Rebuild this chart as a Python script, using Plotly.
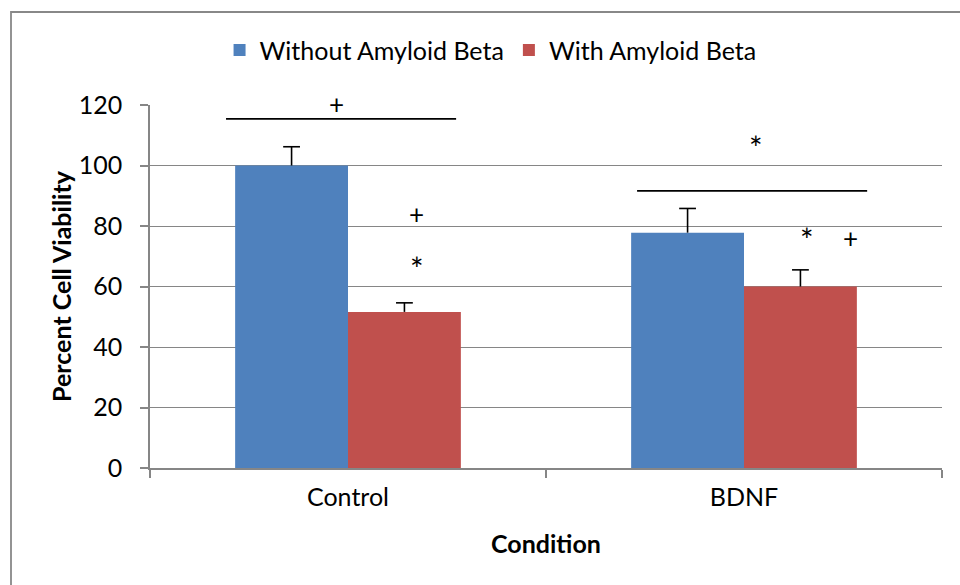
import plotly.graph_objects as go

categories = ["Control", "BDNF"]
without_ab = [100, 77.8]
without_err = [6.2, 8.0]
with_ab = [51.6, 60.0]
with_err = [3.0, 5.5]

# significance markers (x in category units, y in data units)
sig_lines = [(-0.308, 0.273, 115.4), (0.730, 1.311, 91.6)]
sig_plus = [(-0.028, 120.3), (0.174, 84.0), (1.268, 76.0)]
sig_star = [(0.174, 66.1), (1.030, 105.8), (1.159, 75.4)]

FONT = "Lato, Carlito, Open Sans, sans-serif"
GRID = "#868686"
FS = 25
GAP = 0.43

fig = go.Figure()
series = [("Without Amyloid Beta", without_ab, without_err, "#4F81BD", "a"),
          ("With Amyloid Beta", with_ab, with_err, "#C0504D", "b")]
for name, vals, errs, col, grp in series:
    fig.add_trace(go.Bar(
        x=categories, y=vals, name=name, offsetgroup=grp,
        marker=dict(color=col, line=dict(width=0)),
        error_y=dict(type="data", array=errs, arrayminus=[0, 0], color="black", thickness=1.6, width=0),
    ))
for name, vals, errs, col, grp in series:
    fig.add_trace(go.Scatter(
        x=categories, y=[v + e for v, e in zip(vals, errs)], mode="markers",
        offsetgroup=grp, showlegend=False, hoverinfo="skip",
        marker=dict(symbol="line-ew-open", size=12, color="black",
                    line=dict(color="black", width=1.6)),
    ))

for x0, x1, y in sig_lines:
    fig.add_shape(type="line", xref="x", yref="y", x0=x0, x1=x1, y0=y, y1=y,
                  line=dict(color="black", width=1.8))
for x, y in sig_plus:
    fig.add_annotation(x=x, y=y / 120, xref="x", yref="paper", text="+", showarrow=False,
                       xanchor="center", yanchor="middle",
                       font=dict(family=FONT, size=26, color="black"))
for x, y in sig_star:
    fig.add_annotation(x=x, y=y / 120, xref="x", yref="paper", text="*", showarrow=False,
                       xanchor="center", yanchor="middle",
                       font=dict(family=FONT, size=32, color="black"))

# outer chart border
fig.add_shape(type="rect", xref="paper", yref="paper",
              x0=(11 - 150) / 792, x1=(975 - 150) / 792,
              y0=(468 - 600) / 363, y1=(468 - 12) / 363,
              line=dict(color="#888888", width=1.8), layer="below")

fig.update_layout(
    width=960, height=585,
    margin=dict(l=150, r=18, t=105, b=117),
    paper_bgcolor="white", plot_bgcolor="white",
    barmode="group", bargap=GAP, bargroupgap=0,
    scattermode="group", scattergap=GAP,
    font=dict(family=FONT, size=FS, color="black"),
    showlegend=True,
    legend=dict(orientation="h", x=0.43, xanchor="center", y=1.151, yanchor="middle",
                font=dict(family=FONT, size=FS, color="black"), itemwidth=30,
                bgcolor="rgba(0,0,0,0)"),
    xaxis=dict(
        showline=True, linecolor=GRID, linewidth=1.5,
        ticks="outside", tickson="boundaries", ticklen=8, tickcolor=GRID, tickwidth=1.5,
        showgrid=False,
        title=dict(text="<b>Condition</b>", font=dict(family=FONT, size=FS), standoff=26),
        tickfont=dict(family=FONT, size=FS),
        ticklabelstandoff=6,
    ),
    yaxis=dict(
        range=[0, 120], dtick=20, tick0=0,
        showline=True, linecolor=GRID, linewidth=1.5,
        ticks="outside", ticklen=8, tickcolor=GRID, tickwidth=1.5,
        showgrid=True, gridcolor=GRID, gridwidth=1.2,
        zeroline=False,
        title=dict(text="<b>Percent Cell Viability</b>", font=dict(family=FONT, size=FS), standoff=0),
        tickfont=dict(family=FONT, size=FS),
        ticklabelstandoff=13,
    ),
)

fig.write_html("out.html")
